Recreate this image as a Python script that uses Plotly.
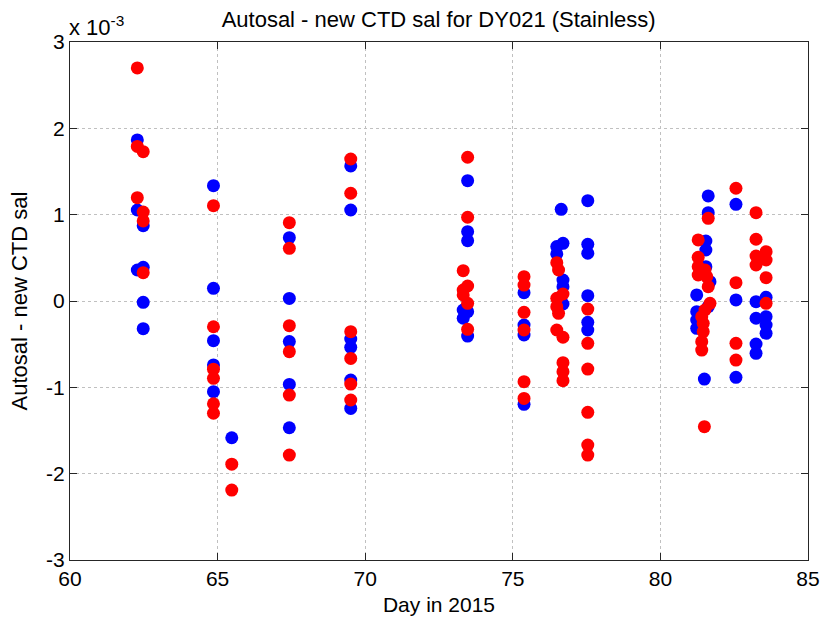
import plotly.graph_objects as go

# Values in units of 1e-3 (axis multiplier "x 10^-3")
blue_days = [62.28, 62.28, 62.48, 62.28, 62.48, 62.48, 62.48,
             64.86, 64.86, 64.86, 64.86, 64.86,
             65.48,
             67.43, 67.43, 67.43, 67.43, 67.43,
             69.51, 69.51, 69.51, 69.51, 69.51, 69.51,
             73.47, 73.47, 73.47, 73.32, 73.47, 73.32, 73.47,
             75.38, 75.38, 75.38, 75.38,
             76.64, 76.70, 76.49, 76.49, 76.70, 76.70, 76.70,
             77.54, 77.54, 77.54, 77.54, 77.54, 77.54,
             81.62, 81.62, 81.54, 81.54, 81.54, 81.68, 81.23, 81.62, 81.23, 81.23, 81.23, 81.49,
             82.56, 82.56, 82.56,
             83.24, 83.58, 83.24, 83.58, 83.58, 83.58, 83.24, 83.24]
blue_vals = [1.866, 1.054, 0.873, 0.359, 0.39, -0.015, -0.32,
             1.336, 0.147, -0.46, -0.74, -1.05,
             -1.584,
             0.734, 0.03, -0.47, -0.966, -1.468,
             1.564, 1.054, -0.44, -0.537, -0.915, -1.244,
             1.394, 0.803, 0.699, -0.104, -0.124, -0.2, -0.406,
             0.096, -0.278, -0.394, -1.197,
             1.062, 0.668, 0.63, 0.545, 0.243, 0.166, -0.035,
             1.162, 0.657, 0.553, 0.062, -0.247, -0.336,
             1.217, 1.023, 0.695, 0.591, 0.398, 0.224, 0.07, -0.066, -0.124, -0.22, -0.316, -0.904,
             1.12, 0.012, -0.884,
             -0.008, 0.043, -0.2, -0.182, -0.278, -0.374, -0.498, -0.606]

red_days = [62.28, 62.28, 62.48, 62.28, 62.48, 62.48, 62.48,
            64.86, 64.86, 64.86, 64.86, 64.86, 64.86,
            65.48, 65.48,
            67.43, 67.43, 67.43, 67.43, 67.43, 67.43,
            69.51, 69.51, 69.51, 69.51, 69.51, 69.51,
            73.47, 73.47, 73.32, 73.47, 73.32, 73.32, 73.47, 73.47,
            75.38, 75.38, 75.38, 75.38, 75.38, 75.38,
            76.49, 76.55, 76.70, 76.49, 76.49, 76.55, 76.49, 76.70, 76.70, 76.70, 76.70,
            77.54, 77.54, 77.54, 77.54, 77.54, 77.54,
            81.62, 81.28, 81.28, 81.28, 81.34, 81.51, 81.28, 81.57, 81.62, 81.68, 81.51,
            81.40, 81.45, 81.45, 81.40, 81.40, 81.49,
            82.56, 82.56, 82.56, 82.56,
            83.24, 83.24, 83.58, 83.24, 83.58, 83.24, 83.58, 83.58]
red_vals = [2.70, 1.79, 1.73, 1.197, 1.03, 0.927, 0.328,
            1.104, -0.298, -0.79, -0.896, -1.19, -1.30,
            -1.89, -2.19,
            0.907, 0.61, -0.286, -0.587, -1.09, -1.785,
            1.645, 1.248, -0.355, -0.665, -0.962, -1.147,
            1.665, 0.97, 0.351, 0.174, 0.127, 0.07, -0.027, -0.328,
            0.282, 0.185, -0.131, -0.336, -0.935, -1.128,
            0.444, 0.359, 0.081, 0.031, -0.066, -0.143, -0.336, -0.42, -0.714, -0.819, -0.923,
            -0.093, -0.49, -0.788, -1.29, -1.669, -1.785,
            0.958, 0.707, 0.506, 0.398, 0.34, 0.359, 0.301, 0.282, 0.166, -0.027, -0.104,
            -0.182, -0.259, -0.355, -0.471, -0.568, -1.456,
            1.306, 0.212, -0.49, -0.684,
            1.023, 0.715, 0.571, 0.521, 0.475, 0.417, 0.27, -0.027]

x_ticks = [60, 65, 70, 75, 80, 85]
y_ticks = [-3, -2, -1, 0, 1, 2, 3]
y_tick_text = ["-3", "-2", "-1", "0", "1", "2", "3"]

FONT = "Liberation Sans, Arial, sans-serif"

fig = go.Figure()
fig.add_trace(go.Scatter(x=blue_days, y=blue_vals, mode="markers",
                         marker=dict(color="#0000ff", size=13, line=dict(width=0)),
                         showlegend=False))
fig.add_trace(go.Scatter(x=red_days, y=red_vals, mode="markers",
                         marker=dict(color="#ff0000", size=13, line=dict(width=0)),
                         showlegend=False))

axis_common = dict(showline=True, linecolor="#262626", linewidth=1, mirror="ticks",
                   ticks="inside", ticklen=7, tickcolor="#262626", automargin=False,
                   showgrid=True, gridcolor="#c0c0c0", griddash="dot", gridwidth=1,
                   zeroline=False, tickfont=dict(family=FONT, size=21, color="#000"))

fig.update_xaxes(range=[60, 85], tickvals=x_ticks,
                 title=dict(text="Day in 2015", font=dict(family=FONT, size=21, color="#000"), standoff=8),
                 **axis_common)
fig.update_yaxes(range=[-3, 3], tickvals=y_ticks, ticktext=y_tick_text,
                 title=dict(text="Autosal - new CTD sal", font=dict(family=FONT, size=22, color="#000"), standoff=12),
                 **axis_common)

fig.update_layout(
    width=823, height=623,
    margin=dict(l=70, r=15, t=42, b=63),
    paper_bgcolor="white", plot_bgcolor="white",
    title=dict(text="Autosal - new CTD sal for DY021 (Stainless)", x=0.533, xanchor="center",
               y=0.9695, yanchor="middle", font=dict(family=FONT, size=22, color="#000")),
    annotations=[dict(text="x 10<sup>-3</sup>", xref="paper", yref="paper", x=0.0, y=1.0,
                      xanchor="left", yanchor="bottom", showarrow=False, yshift=0, xshift=-3,
                      font=dict(family=FONT, size=22, color="#000"))],
)

# remove the default page margin so the figure fills the window exactly
fig.write_html("out.html", config={"displayModeBar": False},
               post_script="document.body.style.margin='0';document.body.style.overflow='hidden';")
